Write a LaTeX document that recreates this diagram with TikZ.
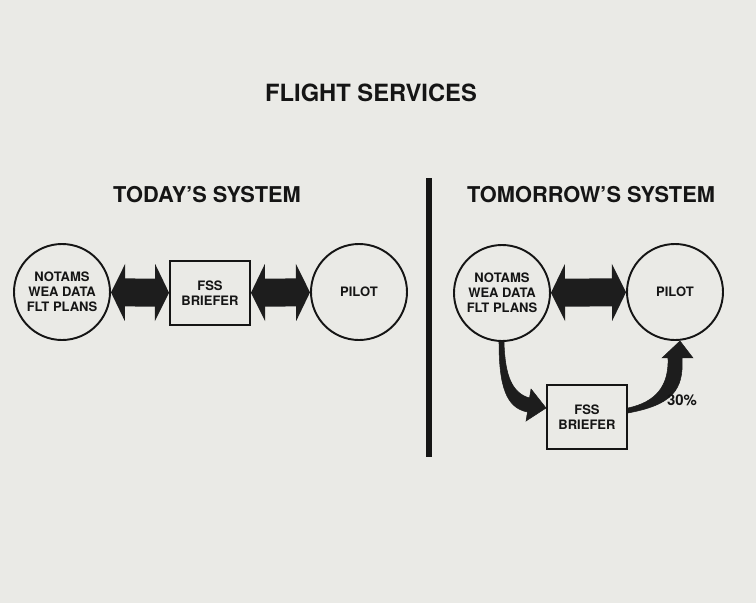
\documentclass[tikz,border=0pt]{standalone}
\usepackage{fontspec}
\setmainfont{TeX Gyre Heros}
\usetikzlibrary{arrows.meta, positioning, calc}
\definecolor{cInk}{HTML}{151515}
\definecolor{cPaper}{HTML}{EAEAE6}
\definecolor{cFat}{HTML}{1D1D1D}
\tikzset{
  base/.style={draw=cInk, line width=1.1pt, align=center, text=cInk, inner sep=0pt,
               font=\fontsize{7.4}{8.6}\selectfont\bfseries},
  src/.style={base, circle, minimum size=1.92cm},
  brf/.style={base, rectangle, minimum width=1.6cm, minimum height=1.28cm},
  head/.style={font=\fontsize{12.4}{14}\selectfont\bfseries, text=cInk},
  fat/.style={draw=cFat, line width=0.56cm,
              {Triangle[length=0.28cm, width=1.14cm, line width=0pt]}-{Triangle[length=0.28cm, width=1.14cm, line width=0pt]}},
  swoosh/.style={fill=cFat, draw=cFat, line width=0.3pt},
  pct/.style={font=\fontsize{8.5}{9}\selectfont\bfseries, text=cInk, inner sep=1pt},
}

\begin{document}
\begin{tikzpicture}
  % ---- paper
  \useasboundingbox (0,0) rectangle (15.12,-12.06);
  \fill[cPaper] (0,0) rectangle (15.12,-12.06);

  % ---- titles
  \node[head, font=\fontsize{13.5}{15}\selectfont\bfseries] (title) at (7.42,-1.86) {FLIGHT SERVICES};
  \node[head] (today) at (4.14,-3.9) {TODAY’S SYSTEM};
  \node[head] (tmrw)  at (11.82,-3.9) {TOMORROW’S SYSTEM};
  \draw[cInk, line width=0.13cm] (8.58,-3.56) -- (8.58,-9.14);

  % ---- today's system
  \node[src] (notamsL) at (1.24,-5.84) {NOTAMS\\WEA DATA\\FLT PLANS};
  \node[brf] (fssL)    at (4.2,-5.86)  {FSS\\BRIEFER};
  \node[src] (pilotL)  at (7.18,-5.84) {PILOT};
  \draw[fat] (notamsL) -- (fssL);
  \draw[fat] (fssL) -- (pilotL);

  % ---- tomorrow's system
  \node[src] (notamsR) at (10.04,-5.86) {NOTAMS\\WEA DATA\\FLT PLANS};
  \node[src] (pilotR)  at (13.5,-5.84)  {PILOT};
  \node[brf] (fssR)    at (11.74,-8.34) {FSS\\BRIEFER};
  \draw[fat] (notamsR) -- (pilotR);

  \coordinate (t1) at ([yshift=0.18cm]fssR.west);
  \fill[swoosh] ([xshift=-0.06cm]notamsR.south) .. controls +(0,-0.88) and +(-0.43,0.08) .. ($(t1)+(-0.37,-0.08)$)
       -- ($(t1)+(-0.40,-0.26)$) -- (t1) -- ($(t1)+(-0.30,0.38)$) -- ($(t1)+(-0.33,0.2)$)
       .. controls +(-0.35,0.1) and +(0.02,-0.68) .. ([xshift=0.04cm]notamsR.south) -- cycle;

  \coordinate (t2) at ([xshift=0.1cm]pilotR.south);
  \fill[swoosh] ([yshift=0.08cm]fssR.east) .. controls +(0.86,0.16) and +(0.04,-0.66) .. ($(t2)+(0.04,-0.34)$)
       -- ($(t2)+(0.26,-0.34)$) -- (t2) -- ($(t2)+(-0.36,-0.34)$) -- ($(t2)+(-0.24,-0.34)$)
       .. controls +(0.02,-0.56) and +(0.56,0.12) .. ([yshift=0.18cm]fssR.east) -- cycle;
  \node[pct] (share) at (13.64,-8.0) {30\%};
\end{tikzpicture}
\end{document}
